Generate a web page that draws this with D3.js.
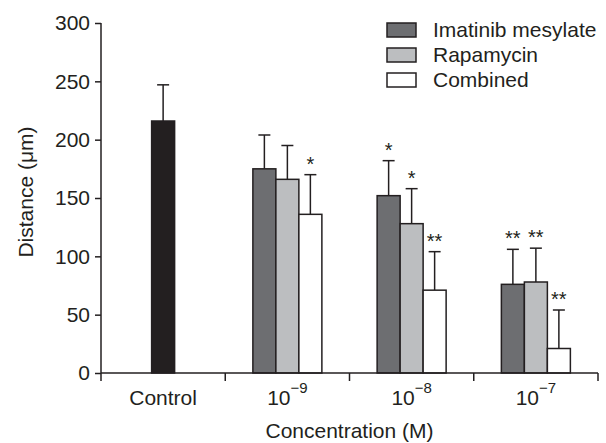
<!DOCTYPE html>
<html>
<head>
<meta charset="utf-8">
<script src="https://cdn.jsdelivr.net/npm/d3@7"></script>
<style>
  body { margin: 0; background: #fff; }
  text { font-family: "Liberation Sans", Arial, sans-serif; fill: #231f20; }
</style>
</head>
<body>
<div id="chart"></div>
<script>
  "use strict";

  var categories = ["Control", "1e-9", "1e-8", "1e-7"];
  var exponents = ["", "\u22129", "\u22128", "\u22127"];
  var series = ["Imatinib mesylate", "Rapamycin", "Combined"];

  var controlValue = 216, controlError = 31;
  var imatinib = [175, 152, 76], imatinibErr = [29, 30, 30], imatinibSig = ["", "*", "**"];
  var rapamycin = [166, 128, 78], rapamycinErr = [29, 30, 29], rapamycinSig = ["", "*", "**"];
  var combined = [136, 71, 21], combinedErr = [34, 33, 33], combinedSig = ["*", "**", "**"];

  var yTicks = [0, 50, 100, 150, 200, 250, 300];

  (function() {
    var colors = ["#6d6e71", "#bcbec0", "#ffffff"];
    var ink = "#231f20";
    var fs = 21;

    var width = 606, height = 443,
      mLeft = 101, mRight = 598, mTop = 23, mBottom = 373;

    var svg = d3.select("#chart").append("svg")
      .attr("width", width)
      .attr("height", height);

    var x0 = d3.scaleBand().domain(categories).range([mLeft, mRight]);
    var groupW = 69;
    var x1 = d3.scaleBand().domain(series)
      .range([(x0.bandwidth() - groupW) / 2, (x0.bandwidth() + groupW) / 2]);
    var y = d3.scaleLinear().domain([0, 300]).range([mBottom, mTop]);

    // build one row per drawn bar
    var rows = [{ x: x0("Control") + x0.bandwidth() / 2 - x1.bandwidth() / 2, v: controlValue, e: controlError, fill: ink, sig: "" }];
    var vals = [imatinib, rapamycin, combined],
      errs = [imatinibErr, rapamycinErr, combinedErr],
      sigs = [imatinibSig, rapamycinSig, combinedSig];
    categories.slice(1).forEach(function(c, i) {
      series.forEach(function(s, j) {
        rows.push({ x: x0(c) + x1(s), v: vals[j][i], e: errs[j][i], fill: colors[j], sig: sigs[j][i] });
      });
    });

    var bw = x1.bandwidth();

    // error bars
    var eb = svg.append("g").attr("stroke", ink).attr("stroke-width", 1.5);
    eb.selectAll("line.v").data(rows).enter().append("line")
      .attr("x1", function(d) { return d.x + bw / 2; })
      .attr("x2", function(d) { return d.x + bw / 2; })
      .attr("y1", function(d) { return y(d.v); })
      .attr("y2", function(d) { return y(d.v + d.e); });
    eb.selectAll("line.c").data(rows).enter().append("line")
      .attr("x1", function(d) { return d.x + bw / 2 - 6; })
      .attr("x2", function(d) { return d.x + bw / 2 + 6; })
      .attr("y1", function(d) { return y(d.v + d.e); })
      .attr("y2", function(d) { return y(d.v + d.e); });

    // bars
    svg.append("g").selectAll("rect").data(rows).enter().append("rect")
      .attr("x", function(d) { return d.x; })
      .attr("y", function(d) { return y(d.v); })
      .attr("width", bw)
      .attr("height", function(d) { return y(0) - y(d.v); })
      .attr("fill", function(d) { return d.fill; })
      .attr("stroke", ink)
      .attr("stroke-width", 1.5);

    // significance marks
    svg.append("g").selectAll("text").data(rows.filter(function(d) { return d.sig; })).enter().append("text")
      .attr("x", function(d) { return d.x + bw / 2; })
      .attr("y", function(d) { return y(d.v + d.e) - 4; })
      .attr("text-anchor", "middle")
      .attr("font-size", 20)
      .text(function(d) { return d.sig; });

    // y axis
    var yAxis = svg.append("g")
      .attr("transform", "translate(" + mLeft + ",0)")
      .call(d3.axisLeft(y).tickValues(yTicks).tickSize(6).tickSizeOuter(0).tickPadding(5));
    yAxis.selectAll("path, line").attr("stroke", ink).attr("stroke-width", 1.5);
    yAxis.selectAll("text").attr("font-size", fs).attr("font-family", null).attr("fill", ink);
    yAxis.select(".domain").remove();
    svg.append("line").attr("x1", mLeft).attr("x2", mLeft).attr("y1", y(300)).attr("y2", mBottom + 8)
      .attr("stroke", ink).attr("stroke-width", 1.5);

    // x axis
    svg.append("line").attr("x1", mLeft).attr("x2", mRight).attr("y1", mBottom).attr("y2", mBottom)
      .attr("stroke", ink).attr("stroke-width", 1.5);
    var edges = categories.map(function(c) { return x0(c); }).concat([mRight]);
    svg.append("g").selectAll("line").data(edges.slice(1)).enter().append("line")
      .attr("x1", function(d) { return d; })
      .attr("x2", function(d) { return d; })
      .attr("y1", mBottom)
      .attr("y2", mBottom + 8)
      .attr("stroke", ink).attr("stroke-width", 1.5);

    var labels = svg.append("g").selectAll("text").data(categories).enter().append("text")
      .attr("x", function(c) { return x0(c) + x0.bandwidth() / 2; })
      .attr("y", 405)
      .attr("text-anchor", "middle")
      .attr("font-size", fs);
    labels.each(function(c, i) {
      var t = d3.select(this);
      if (i === 0) { t.text(c); return; }
      t.append("tspan").text("10");
      t.append("tspan").attr("dy", -12).attr("font-size", 15).text(exponents[i]);
    });

    svg.append("text")
      .attr("x", (mLeft + mRight) / 2)
      .attr("y", 438)
      .attr("text-anchor", "middle")
      .attr("font-size", fs)
      .text("Concentration (M)");

    svg.append("text")
      .attr("transform", "translate(33," + (y(150) - 6) + ") rotate(-90)")
      .attr("text-anchor", "middle")
      .attr("font-size", fs)
      .text("Distance (\u03bcm)");

    // legend
    var legend = svg.append("g").selectAll("g").data(series).enter().append("g")
      .attr("transform", function(d, i) { return "translate(387," + (23 + i * 25) + ")"; });
    legend.append("rect")
      .attr("width", 29).attr("height", 14)
      .attr("fill", function(d, i) { return colors[i]; })
      .attr("stroke", ink).attr("stroke-width", 1.5);
    legend.append("text")
      .attr("x", 46).attr("y", 14)
      .attr("font-size", fs)
      .text(function(d) { return d; });
  })();
</script>
</body>
</html>
